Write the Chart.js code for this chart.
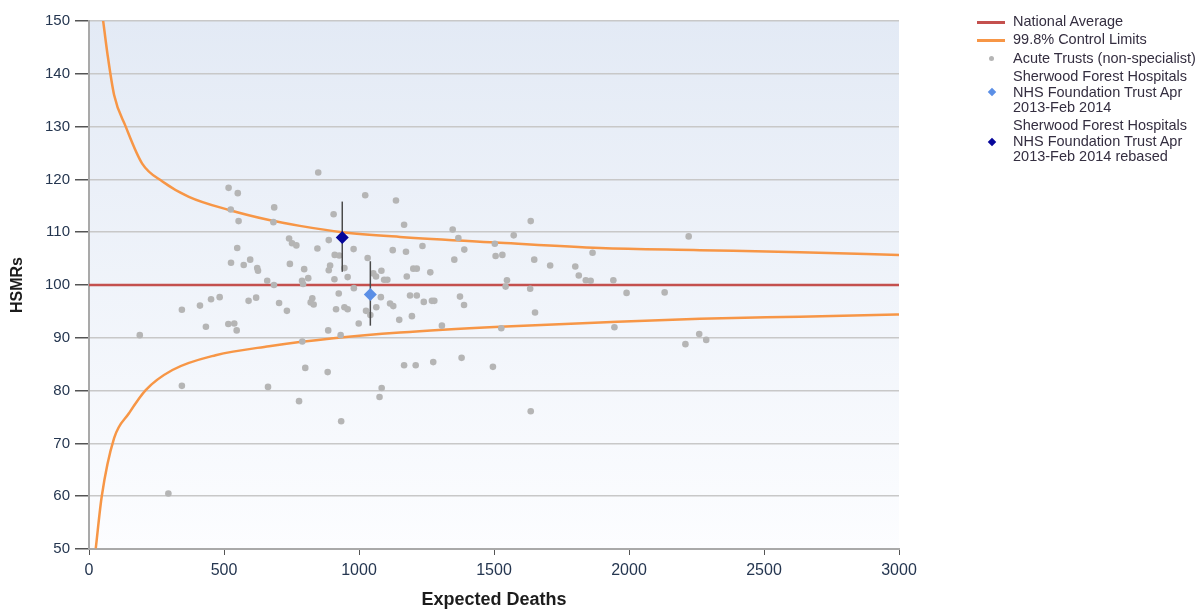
<!DOCTYPE html>
<html>
<head>
<meta charset="utf-8">
<title>HSMR funnel plot</title>
<script src="https://cdn.jsdelivr.net/npm/chart.js@4.4.1/dist/chart.umd.min.js"></script>
<style>
  html, body { margin:0; padding:0; background:#fff; }
  #wrap { position:relative; width:1200px; height:609px; overflow:hidden; }
  #legend { position:absolute; left:0; top:0; width:1200px; height:609px; pointer-events:none;
            font-family:"Liberation Sans", Arial, sans-serif; font-size:14.5px; color:#342e40; }
  .tx { position:absolute; left:1013px; line-height:15.5px; white-space:nowrap; }
  .ln { position:absolute; left:977px; width:28px; height:2.5px; }
  .dot { position:absolute; width:5px; height:5px; border-radius:50%; background:#b5b5b5; }
  .dia { position:absolute; width:6px; height:6px; transform:rotate(45deg); }
</style>
</head>
<body>
<div id="wrap">
  <canvas id="chart" width="1200" height="609"></canvas>
  <div id="legend">
    <span class="ln" style="top:21px;background:#c4504e"></span>
    <div class="tx" style="top:14px">National Average</div>
    <span class="ln" style="top:39px;background:#f79646"></span>
    <div class="tx" style="top:32px">99.8% Control Limits</div>
    <span class="dot" style="left:989px;top:56px"></span>
    <div class="tx" style="top:51px">Acute Trusts (non-specialist)</div>
    <span class="dia" style="left:989px;top:89px;background:#5b8fe6"></span>
    <div class="tx" style="top:69px">Sherwood Forest Hospitals<br>NHS Foundation Trust Apr<br>2013-Feb 2014</div>
    <span class="dia" style="left:989px;top:139px;background:#06069a"></span>
    <div class="tx" style="top:118px">Sherwood Forest Hospitals<br>NHS Foundation Trust Apr<br>2013-Feb 2014 rebased</div>
  </div>
</div>
<script>
// Acute trusts: expected deaths / HSMR
const trustDeaths = [
  849,517,551,1023,1137,525,686,554,683,906,741,752,768,846,888,980,1125,549,526,573,
  597,623,626,744,797,910,927,893,888,946,1032,1083,1053,1063,1093,1105,958,909,812,789,
  793,660,685,981,925,1081,1115,1127,1064,1026,1042,999,1149,946,958,915,827,821,832,704,
  733,619,591,484,452,411,344,433,516,538,547,188,886,932,790,801,884,344,663,1084,
  1076,778,934,294,1167,1174,1177,1201,1214,1235,1264,1189,1214,1240,1270,1279,1196,1307,1167,1210,
  1275,1380,1496,1636,1347,1368,1390,1353,1374,1389,1503,1506,1531,1573,1548,1543,1527,1636,1649,1634,
  1652,1708,1801,1814,1840,1858,1865,1942,1946,1991,2132,2221,2209,2260,2286
];
const trustHsmr = [
  121.3,118.4,117.4,117.0,116.0,114.3,114.7,112.1,111.9,113.4,108.8,107.9,107.5,106.9,108.5,106.8,106.6,107.0,104.2,103.8,
  104.8,103.2,102.7,104.0,103.0,105.7,105.6,103.7,102.8,103.2,105.1,102.7,102.2,101.6,101.0,101.0,101.5,101.1,101.3,100.8,
  100.2,100.8,100.0,99.4,98.4,97.7,96.5,96.0,95.8,95.1,94.3,92.7,93.4,95.8,95.4,95.4,97.5,96.7,96.3,96.6,
  95.1,97.6,97.0,97.7,97.3,96.1,95.3,92.1,92.6,92.7,91.4,90.5,91.4,90.5,89.3,84.3,83.5,80.9,80.7,80.5,
  78.8,78.0,74.2,60.5,111.4,106.3,101.6,103.1,103.1,107.4,102.4,98.0,98.0,96.8,97.0,97.0,94.1,92.3,84.8,84.8,
  85.4,86.2,84.5,76.1,110.5,108.9,106.7,104.8,97.8,96.2,107.8,105.5,105.7,109.4,100.9,99.7,91.8,112.1,104.8,99.3,
  94.8,103.7,103.5,101.8,100.9,100.8,106.1,100.9,92.0,98.5,98.6,109.2,88.8,90.7,89.6
];

// Sherwood Forest: [expected, hsmr, low, high]
const sherwood = [1042, 98.2, 92.3, 104.5];
const sherwoodRebased = [938, 109.0, 102.5, 115.8];

// control limits
const upperX = [52, 68, 93, 136, 197, 272, 370, 519, 667, 781, 938, 1152, 1522, 1893, 2263, 2633, 3000];
const upperY = [150.2, 143.9, 136.0, 130.0, 123.0, 119.6, 116.7, 114.2, 112.3, 111.2, 110.0, 109.1, 108.0, 107.0, 106.6, 106.2, 105.7];
const lowerX = [25, 47, 93, 148, 210, 309, 469, 667, 905, 1152, 1522, 1893, 2263, 2633, 3000];
const lowerY = [50.1, 59.9, 71.0, 75.7, 80.1, 83.9, 86.7, 88.4, 89.9, 91.0, 92.1, 92.9, 93.6, 94.0, 94.4];

const nationalAvg = 100;
const xRange = [0, 3000];
const yRange = [50, 150];

const toPts = (xs, ys) => xs.map((x, i) => ({x: x, y: ys[i]}));

// plot area gradient
const bgPlugin = {
  id: 'bg',
  beforeDraw(chart) {
    const {ctx, chartArea: a} = chart;
    const g = ctx.createLinearGradient(0, a.top, 0, a.bottom);
    g.addColorStop(0, '#e3eaf5');
    g.addColorStop(1, '#fcfdff');
    ctx.save();
    ctx.fillStyle = g;
    ctx.fillRect(a.left, a.top, a.right - a.left, a.bottom - a.top);
    ctx.restore();
  }
};

const lineDs = (data, color, width) => ({
  type: 'line', data: data, borderColor: color, borderWidth: width,
  pointRadius: 0, showLine: true, fill: false
});

const datasets = [
  {data: [{x: sherwoodRebased[0], y: sherwoodRebased[1]}], pointStyle: 'rectRot', pointRadius: 6.5,
   backgroundColor: '#06069a', borderColor: '#06069a', borderWidth: 0},
  {data: [{x: sherwood[0], y: sherwood[1]}], pointStyle: 'rectRot', pointRadius: 6.5,
   backgroundColor: '#5b8fe6', borderColor: '#5b8fe6', borderWidth: 0},
  lineDs([{x: sherwoodRebased[0], y: sherwoodRebased[2]}, {x: sherwoodRebased[0], y: sherwoodRebased[3]}], '#4a4a4a', 1.5),
  lineDs([{x: sherwood[0], y: sherwood[2]}, {x: sherwood[0], y: sherwood[3]}], '#4a4a4a', 1.5),
  {data: toPts(trustDeaths, trustHsmr), pointRadius: 3.3, backgroundColor: '#b5b5b5', borderWidth: 0},
  lineDs(xRange.map(x => ({x: x, y: nationalAvg})), '#c4504e', 2.5),
  Object.assign(lineDs(toPts(upperX, upperY), '#f79646', 2.5), {cubicInterpolationMode: 'monotone'}),
  Object.assign(lineDs(toPts(lowerX, lowerY), '#f79646', 2.5), {cubicInterpolationMode: 'monotone'})
];

const fam = '"Liberation Sans", Arial, sans-serif';

new Chart(document.getElementById('chart'), {
  type: 'scatter',
  data: {datasets: datasets},
  plugins: [bgPlugin],
  options: {
    responsive: false,
    devicePixelRatio: 1,
    animation: false,
    layout: {padding: {top: 21, right: 301, left: 0, bottom: 0}},
    plugins: {legend: {display: false}, tooltip: {enabled: false}},
    scales: {
      x: {
        type: 'linear', min: xRange[0], max: xRange[1],
        ticks: {stepSize: 500, color: '#253650', font: {family: fam, size: 16}, padding: 6, maxRotation: 0,
                callback: v => String(v)},
        grid: {drawOnChartArea: false, drawTicks: true, tickLength: 6, tickColor: '#555'},
        border: {color: '#a9a9a9', width: 2},
        title: {display: true, text: 'Expected Deaths', color: '#1c1c1c',
                font: {family: fam, size: 18, weight: 'bold', lineHeight: 1},
                padding: {top: 0, bottom: 0}},
        afterFit: s => { s.height = 60; }
      },
      y: {
        min: yRange[0], max: yRange[1],
        ticks: {stepSize: 10, color: '#253650', font: {family: fam, size: 15}, padding: 5},
        grid: {color: '#c8c8c8', lineWidth: 1.5, tickLength: 14, tickColor: '#555'},
        border: {color: '#a9a9a9', width: 2},
        title: {display: true, text: 'HSMRs', color: '#1c1c1c',
                font: {family: fam, size: 16, weight: 'bold'},
                padding: {top: 8, bottom: 0}},
        afterFit: s => { s.width = 89; }
      }
    }
  }
});
</script>
</body>
</html>
